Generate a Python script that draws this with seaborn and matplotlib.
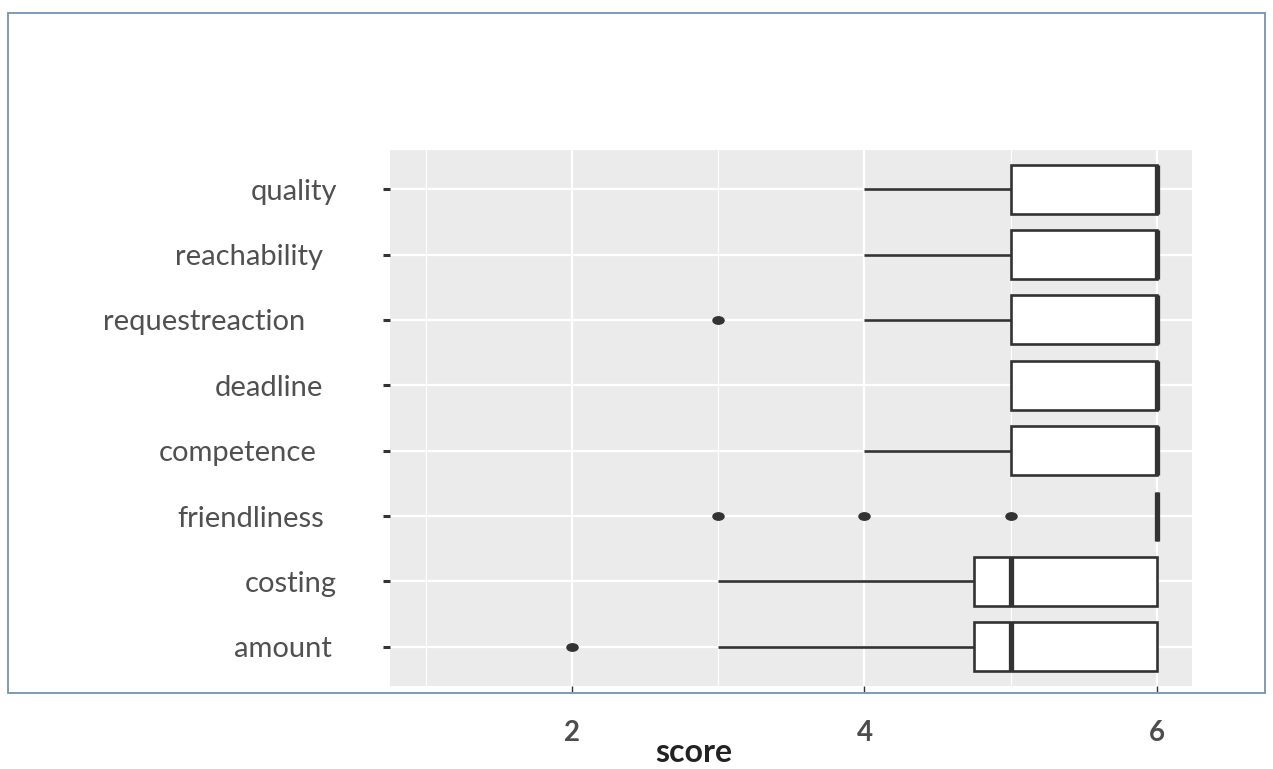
import numpy as np
import pandas as pd
import matplotlib
matplotlib.use("Agg")
import matplotlib.pyplot as plt
import matplotlib.transforms as mtransforms
from matplotlib.path import Path
from matplotlib.patches import Rectangle
import seaborn as sns

# item order, top to bottom
items = ['quality', 'reachability', 'requestreaction', 'deadline',
         'competence', 'friendliness', 'costing', 'amount']

# raw scores per item (read from the box / whisker / outlier positions)
quality = [4, 5, 5, 6, 6, 6, 6, 6]
reachability = [4, 5, 5, 6, 6, 6, 6, 6]
requestreaction = [3, 4, 5, 5, 6, 6, 6, 6, 6]
deadline = [5, 5, 5, 6, 6, 6, 6, 6]
competence = [4, 5, 5, 6, 6, 6, 6, 6]
friendliness = [3, 4, 5, 6, 6, 6, 6, 6, 6, 6, 6, 6, 6, 6, 6, 6]
costing = [3, 4, 5, 5, 5, 6, 6, 6]
amount = [2, 3, 4, 5, 5, 5, 5, 6, 6, 6, 6, 6]

x_ticks = [2, 4, 6]
x_label = 'score'

scores = dict(quality=quality, reachability=reachability,
              requestreaction=requestreaction, deadline=deadline,
              competence=competence, friendliness=friendliness,
              costing=costing, amount=amount)
df = pd.DataFrame([(k, v) for k in items for v in scores[k]],
                  columns=['item', 'score'])

sns.set_theme(style='white')
plt.rcParams['font.family'] = ['Lato', 'DejaVu Sans']

fig = plt.figure(figsize=(12.73, 7.69), dpi=100)
W, H = 1273, 769
ax = fig.add_axes([390 / W, 1 - 686 / H, 802 / W, 536 / H])
ax.set_facecolor('#EBEBEB')

# slightly wide oval for the outlier dots
oval = Path(Path.unit_circle().vertices * np.array([1.5, 1.0]),
            Path.unit_circle().codes)

sns.boxplot(data=df, x='score', y='item', order=items, ax=ax,
            width=0.75, color='white', linecolor='#333333', linewidth=1.9,
            showcaps=False, whis=1.5, fliersize=8,
            medianprops=dict(linewidth=3.8, color='#333333'),
            flierprops=dict(marker=oval, markerfacecolor='#333333',
                            markeredgecolor='#333333'))

ax.set_xlim(0.7556, 6.2393)
ax.set_ylim(len(items) - 0.4, -0.6)
ax.set_xticks(x_ticks)
ax.set_xticks([1, 3, 5], minor=True)
ax.set_axisbelow(True)
ax.grid(True, which='major', color='white', linewidth=1.6)
ax.grid(True, which='minor', axis='x', color='white', linewidth=0.8)
for s in ax.spines.values():
    s.set_visible(False)

ax.tick_params(axis='y', which='major', left=True, length=5, width=2.2,
               color='#333333', pad=33, labelsize=21, labelcolor='#505050')
ax.tick_params(axis='x', which='major', bottom=True, length=4.5, width=1,
               color='#333333', pad=20, labelsize=20)
ax.tick_params(axis='x', which='minor', bottom=False)
for lab in ax.get_xticklabels():
    lab.set_fontweight('bold')
    lab.set_color('#4d4d4d')

# the item labels are not all flush right in the original
shift_px = [0, -14, -32, -14, -21, -13, 0, -5]
for lab, dx in zip(ax.get_yticklabels(), shift_px):
    lab.set_transform(lab.get_transform() +
                      mtransforms.ScaledTranslation(dx / 100, 0, fig.dpi_scale_trans))

ax.set_ylabel('')
ax.set_xlabel(x_label, fontsize=23, fontweight='bold', color='#222222', va='center')
ax.xaxis.set_label_coords((694 - 390) / 802, -(753 - 686) / 536)

# blue frame around the plot area
fig.patches.append(Rectangle((8 / W, 1 - 693 / H), 1257 / W, 680 / H,
                             transform=fig.transFigure, fill=False,
                             edgecolor='#7393B3', linewidth=1.3))

fig.savefig('out.png', dpi=100)
